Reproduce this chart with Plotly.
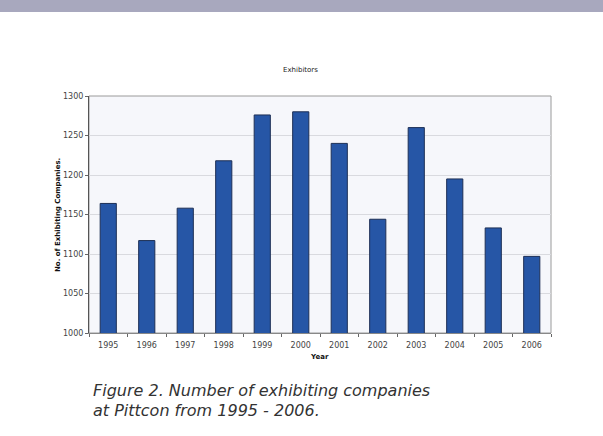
import plotly.graph_objects as go

years = ["1995", "1996", "1997", "1998", "1999", "2000",
         "2001", "2002", "2003", "2004", "2005", "2006"]
exhibitors = [1164, 1117, 1158, 1218, 1276, 1280,
              1240, 1144, 1260, 1195, 1133, 1097]
y_ticks = [1000, 1050, 1100, 1150, 1200, 1250, 1300]
caption = ["Figure 2. Number of exhibiting companies",
           "at Pittcon from 1995 - 2006."]

W, H = 603, 436
L, R, T, B = 89, 551, 96, 333


def px(x):
    return (x - L) / (R - L)


def py(y):
    return (B - y) / (B - T)


fig = go.Figure(go.Bar(
    x=years, y=exhibitors,
    marker=dict(color="#2656a6", line=dict(color="#1d2f55", width=1)),
    width=0.42,
))

fig.update_layout(
    width=W, height=H,
    margin=dict(l=L, r=W - R, t=T, b=H - B),
    paper_bgcolor="white",
    plot_bgcolor="#f6f7fb",
    showlegend=False,
    font=dict(family="DejaVu Sans", size=8, color="#333333"),
    xaxis=dict(
        type="category",
        tickson="boundaries",
        ticks="outside", ticklen=3, tickcolor="#666666",
        showline=True, linecolor="#888888", linewidth=1,
        showgrid=False,
        ticklabelstandoff=4,
        tickfont=dict(size=8, color="#444444"),
    ),
    yaxis=dict(
        range=[1000, 1300],
        tickvals=y_ticks,
        ticks="outside", ticklen=3, tickcolor="#666666",
        showline=True, linecolor="#555555", linewidth=1,
        gridcolor="#d9dadf", gridwidth=1,
        tickfont=dict(size=8, color="#444444"),
        zeroline=False,
    ),
    shapes=[
        # banner across the top of the page
        dict(type="rect", xref="paper", yref="paper",
             x0=px(0), x1=px(W), y0=py(12), y1=py(0),
             fillcolor="#a8a8be", line=dict(width=0), layer="below"),
        # frame around plot area
        dict(type="rect", xref="paper", yref="paper", x0=0, x1=1, y0=0, y1=1,
             line=dict(color="#9a9a9a", width=1), layer="below"),
    ],
    annotations=[
        dict(text="Exhibitors", xref="paper", yref="paper",
             x=px(300), y=py(70),
             showarrow=False, font=dict(size=7, color="#222222"),
             xanchor="center", yanchor="middle"),
        dict(text="<b>Year</b>", xref="paper", yref="paper",
             x=px(319), y=py(357),
             showarrow=False, font=dict(size=7, color="#111111"),
             xanchor="center", yanchor="middle"),
        dict(text="<b>No. of Exhibiting Companies.</b>", xref="paper", yref="paper",
             x=px(58), y=py(215),
             showarrow=False, textangle=-90, font=dict(size=7, color="#111111"),
             xanchor="center", yanchor="middle"),
    ] + [
        dict(text="<i>%s</i>" % line, xref="paper", yref="paper",
             x=px(91), y=py(390 + 20 * i),
             showarrow=False, align="left",
             font=dict(family="DejaVu Sans", size=16, color="#333333"),
             xanchor="left", yanchor="middle")
        for i, line in enumerate(caption)
    ],
)

fig.write_html("out.html")
